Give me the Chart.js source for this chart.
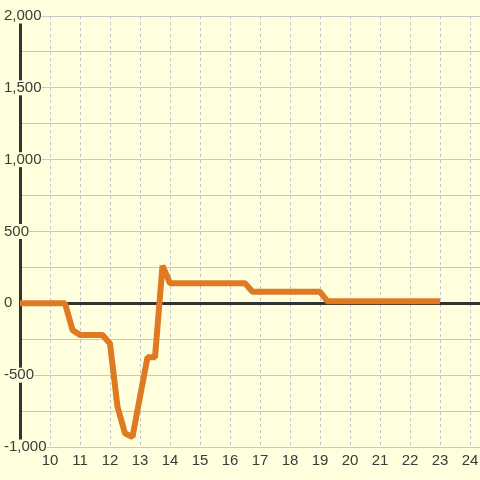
<!DOCTYPE html>
<html>
<head>
<meta charset="utf-8">
<script src="https://cdn.jsdelivr.net/npm/chart.js@4/dist/chart.umd.min.js"></script>
<style>
  html, body { margin: 0; padding: 0; background: #ffffdd; }
  #wrap { width: 480px; height: 480px; position: relative; }
</style>
</head>
<body>
<div id="wrap"><canvas id="grafico"></canvas></div>
<script>
// hours (x) and values (y)
var horas = [9, 10.5, 10.75, 11, 11.75, 12, 12.25, 12.5, 12.75, 13, 13.25, 13.5, 13.75, 14, 16.5, 16.75, 19, 19.25, 23];
var valores = [0, 0, -185, -220, -220, -280, -720, -905, -930, -650, -375, -375, 262, 140, 140, 80, 80, 14, 14];

// axis ticks
var ticksX = [10, 11, 12, 13, 14, 15, 16, 17, 18, 19, 20, 21, 22, 23, 24];
var ticksY = [-1000, -750, -500, -250, 0, 250, 500, 750, 1000, 1250, 1500, 1750, 2000];
var rotulosY = [-1000, -500, 0, 500, 1000, 1500, 2000];

var corFundo = '#ffffdd';
var corTexto = '#3a3a3a';

var pontos = horas.map(function (h, i) { return { x: h, y: valores[i] }; });

var ctx = document.getElementById('grafico').getContext('2d');
var grafico = new Chart(ctx, {
    type: 'line',
    data: {
        datasets: [{
            data: pontos,
            borderColor: 'rgb(223, 122, 35)',
            borderWidth: 6,
            borderJoinStyle: 'bevel',
            pointRadius: 0,
            tension: 0,
            fill: false
        }]
    },
    options: {
        responsive: true,
        maintainAspectRatio: false,
        animation: false,
        layout: { padding: { left: 20, top: 16, right: 0, bottom: 5 } },
        plugins: { legend: { display: false }, tooltip: { enabled: false } },
        scales: {
            x: {
                type: 'linear',
                min: 9,
                max: 24.333,
                afterBuildTicks: function (escala) {
                    escala.ticks = ticksX.map(function (v) { return { value: v }; });
                },
                afterFit: function (escala) { escala.paddingLeft = 0; escala.paddingRight = 0; },
                border: { display: false, dash: [3, 3] },
                grid: { color: '#c4c4c4', lineWidth: 1, drawTicks: false },
                ticks: {
                    autoSkip: false,
                    padding: 5,
                    color: corTexto,
                    font: { family: 'Liberation Sans', size: 15 },
                    callback: function (v) { return String(v); }
                }
            },
            y: {
                min: -1000,
                max: 2000,
                afterBuildTicks: function (escala) {
                    escala.ticks = ticksY.map(function (v) { return { value: v }; });
                },
                afterFit: function (escala) {
                    escala.width = 0;
                    escala.paddingTop = 0;
                    escala.paddingBottom = 0;
                },
                border: { display: true, color: '#333333', width: 3 },
                grid: {
                    drawTicks: false,
                    color: function (c) { return c.tick && c.tick.value === 0 ? '#333333' : '#c8c8c8'; },
                    lineWidth: function (c) { return c.tick && c.tick.value === 0 ? 3 : 1; }
                },
                ticks: {
                    autoSkip: false,
                    mirror: true,
                    crossAlign: 'near',
                    padding: -16,
                    color: corTexto,
                    font: { family: 'Liberation Sans', size: 15, lineHeight: 1 },
                    showLabelBackdrop: true,
                    backdropColor: corFundo,
                    backdropPadding: 0,
                    callback: function (v) { return rotulosY.indexOf(v) >= 0 ? v.toLocaleString('en-US') : ''; }
                }
            }
        }
    }
});
</script>
</body>
</html>
